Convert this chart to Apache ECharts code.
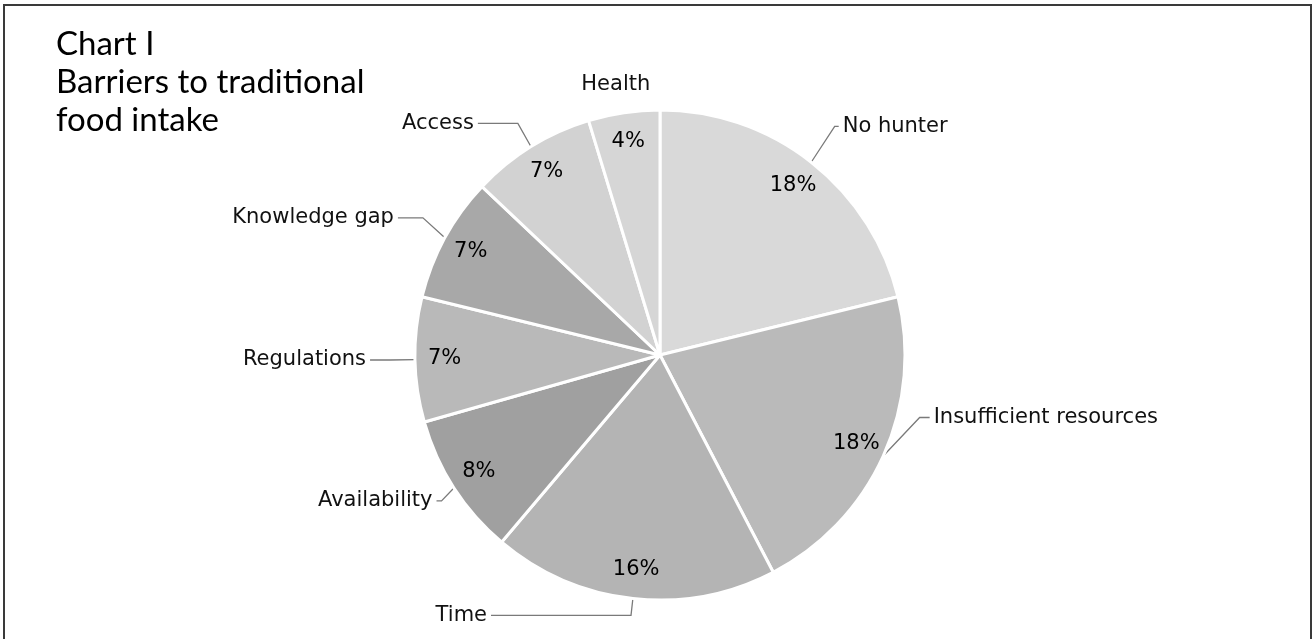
<!DOCTYPE html>
<html>
<head>
<meta charset="utf-8">
<title>Chart I - Barriers to traditional food intake</title>
<script src="https://cdn.jsdelivr.net/npm/echarts/dist/echarts.min.js"></script>
<style>
    html, body { margin: 0; padding: 0; background: #fff; }
    #chart { width: 1313px; height: 639px; }
</style>
</head>
<body>
<div id="chart"></div>
<script>
    // Data
    const categories = ['No hunter', 'Insufficient resources', 'Time', 'Availability',
        'Regulations', 'Knowledge gap', 'Access', 'Health'];
    const shares = [18, 18, 16, 8, 7, 7, 7, 4];

    // Styles (grey shades of each slice, leader line lengths)
    const sliceColors = ['#d9d9d9', '#bababa', '#b4b4b4', '#a0a0a0', '#b9b9b9', '#a8a8a8', '#d2d2d2', '#d6d6d6'];
    const lineLen = [38, 40, 17, 15, 25, 25, 25, 28];
    const lineLen2 = [4, 10, 140, 5, 20, 25, 40, 0];
    const labelLift = [-6, -55, 0, 5, 0, -8, -2, 0];

    const pieCenter = [660, 355];
    const pieRadius = 245;

    function build_data(){
        return categories.map(function(name, i){
            return {
                name: name,
                value: shares[i],
                itemStyle: { color: sliceColors[i] },
                labelLine: {
                    show: i !== 7,
                    length: lineLen[i],
                    length2: lineLen2[i]
                }
            };
        });
    }

    const options = {
        animation: false,
        title: {
            text: 'Chart I\nBarriers to traditional\nfood intake',
            left: 51,
            top: 20,
            textStyle: {
                fontFamily: 'Lato',
                fontSize: 33,
                fontWeight: 'normal',
                lineHeight: 38,
                color: '#000'
            }
        },
        graphic: [{
            type: 'rect',
            silent: true,
            shape: { x: 4, y: 5, width: 1307, height: 660 },
            style: { fill: 'none', stroke: '#3a3a3a', lineWidth: 2 }
        }],
        series: [
            {
                // slices + category names outside
                type: 'pie',
                center: pieCenter,
                radius: pieRadius,
                startAngle: 90,
                clockwise: true,
                avoidLabelOverlap: false,
                silent: true,
                itemStyle: { borderColor: '#fff', borderWidth: 3 },
                label: {
                    show: true,
                    position: 'outside',
                    formatter: '{b}',
                    fontFamily: 'DejaVu Sans',
                    fontSize: 21,
                    color: '#111',
                    distanceToLabelLine: 4
                },
                labelLine: {
                    lineStyle: { color: '#7a7a7a', width: 1.3 }
                },
                labelLayout: function(params){
                    let lift = labelLift[params.dataIndex];
                    let out = { dy: lift };
                    let pts = params.labelLinePoints;
                    if(pts && lift){
                        out.labelLinePoints = [
                            pts[0],
                            [pts[1][0], pts[1][1] + lift],
                            [pts[2][0], pts[2][1] + lift]
                        ];
                    }
                    if(params.dataIndex === 7){
                        out.align = 'center';
                    }
                    return out;
                },
                data: build_data()
            },
            {
                // transparent ring carrying the percentage labels
                type: 'pie',
                center: pieCenter,
                radius: [180, pieRadius],
                startAngle: 90,
                clockwise: true,
                silent: true,
                itemStyle: { color: 'rgba(0,0,0,0)', borderWidth: 0 },
                label: {
                    show: true,
                    position: 'inside',
                    formatter: '{c}%',
                    fontFamily: 'DejaVu Sans',
                    fontSize: 21,
                    color: '#000'
                },
                labelLine: { show: false },
                data: categories.map(function(name, i){
                    return { name: name, value: shares[i] };
                })
            }
        ]
    };

    echarts.init(document.getElementById('chart')).setOption(options);
</script>
</body>
</html>
